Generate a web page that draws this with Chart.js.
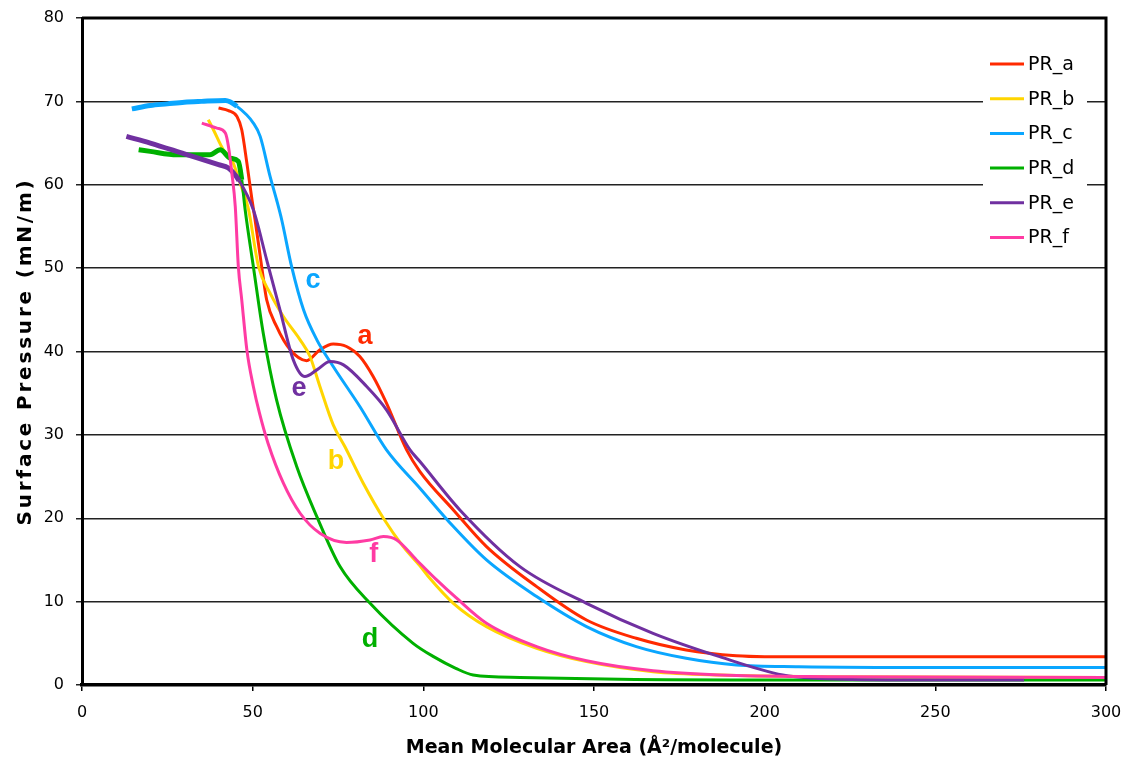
<!DOCTYPE html>
<html>
<head>
<meta charset="utf-8">
<title>Surface pressure isotherms</title>
<script src="https://cdn.jsdelivr.net/npm/chart.js@4"></script>
<style>
  body { margin: 0; background: #fff; }
  #wrap { width: 1125px; height: 759px; }
</style>
</head>
<body>
<div id="wrap"><canvas id="chart" width="1125" height="759"></canvas></div>
<script>
// [mean molecular area, surface pressure]
const prA = [[40,69.2],[42.9,68.9],[45.4,68.2],[46.8,66.6],[48.3,62.6],[49.8,58.2],[50.7,55.8],[52.7,50],[54.1,46.2],[57,43],[61,40.2],[65.8,38.9],[69.7,40.2],[73.6,40.9],[77.5,40.6],[81.4,39.4],[85.3,37],[89.2,33.8],[95.1,28.2],[99,25.6],[108.8,21],[118.5,16.6],[133.2,11.8],[147.8,7.8],[162.4,5.6],[177,4.2],[191.7,3.5],[200,3.4],[250,3.4],[300,3.4]];
const prB = [[37,67.8],[38.5,66.6],[41.4,64.2],[43.9,63],[46.3,60.2],[48.7,57.2],[51.7,50.2],[55.1,47],[59,44.2],[63.9,41.4],[66.8,39.4],[69.7,35.8],[73.6,31.2],[77,28.6],[82.4,24.2],[88.3,20],[94.1,16.6],[99,14.3],[101.9,12.8],[108.8,9.8],[118.5,7],[133.2,4.4],[147.8,2.8],[167.3,1.6],[186.8,1.2],[220,1.0],[300,0.9]];
const prC = [[14.6,69.1],[20,69.5],[25,69.7],[30,69.9],[35,70],[42,70.1],[45.4,69.4],[50.2,67.4],[52.2,65.8],[55.1,61],[57,58.2],[58.5,55.8],[61.4,50.2],[64.9,45],[68.8,41.4],[73.6,38.2],[81.4,33.4],[89.2,28.2],[99,23.6],[108.8,19],[118.5,15],[133.2,10.6],[147.8,7],[162.4,4.6],[177,3.2],[191.7,2.4],[210,2.2],[250,2.1],[300,2.1]];
const prD = [[16.6,64.2],[20,64],[27.8,63.6],[37.5,63.6],[40.5,64.2],[43.4,63.2],[45.8,62.8],[46.8,60.6],[47.8,57],[50.2,50.2],[53.1,42.2],[57,34.2],[62.9,26.2],[68.8,20.2],[75.6,14.2],[84.4,9.8],[97,5],[103,3.4],[109.5,2.0],[114.6,1.2],[128.3,0.9],[200,0.6],[300,0.6]];
const prE = [[13,65.8],[20,65],[30,63.7],[40,62.4],[42.9,62],[46,60.5],[50.2,57],[54.1,51],[58,45],[61.9,39],[65.3,37],[68.8,37.8],[72.7,38.8],[76.6,38.4],[83.4,35.8],[89.2,33],[96.1,28.2],[99,26.8],[110.7,21],[128.3,14.2],[147.8,9.8],[167.3,6.2],[186.8,3.4],[205.3,1.2],[215,0.8],[240,0.6],[276,0.6]];
const prF = [[35.1,67.4],[39.5,66.8],[42,66.2],[42.9,64.6],[43.9,61.4],[44.9,57.4],[45.8,50.2],[46.8,46.2],[48.3,40.2],[50.2,35.8],[52,32.6],[54.5,29],[59,24.2],[63.9,20.6],[69.7,18.2],[77.5,17.1],[84.4,17.4],[88.3,17.8],[92.2,17.4],[98,15],[103.9,12.6],[109.5,10.5],[118.5,7.4],[133.2,4.6],[147.8,2.9],[167.3,1.7],[186.8,1.2],[220,1.0],[300,0.9]];

const seriesNames = ['PR_a', 'PR_b', 'PR_c', 'PR_d', 'PR_e', 'PR_f'];
const seriesData = [prA, prB, prC, prD, prE, prF];
const seriesColors = ['#FF2A00', '#FFD500', '#0AA6FF', '#00B000', '#7030A0', '#FF3BA3'];
// area below which the trace is noisy (drawn thicker)
const noisyBelow = [0, 0, 44, 46, 43, 0];

// curve letters placed in data coordinates
const curveLetters = ['a', 'b', 'c', 'd', 'e', 'f'];
const letterAt = [[82.9, 41.8], [74.4, 26.8], [67.7, 48.5], [84.4, 5.4], [63.6, 35.6], [85.5, 15.6]];

const xTicks = [0, 50, 100, 150, 200, 250, 300];
const yTicks = [0, 10, 20, 30, 40, 50, 60, 70, 80];

const datasets = seriesData.map((pts, i) => ({
  label: seriesNames[i],
  data: pts.map(p => ({ x: p[0], y: p[1] })),
  borderColor: seriesColors[i],
  borderWidth: 3,
  pointRadius: 0,
  cubicInterpolationMode: 'monotone',
  fill: false,
  order: seriesData.length - i,
  segment: {
    borderWidth: ctx => (ctx.p0.parsed.x < noisyBelow[i] ? 5 : 3)
  }
}));

const extras = {
  id: 'extras',
  afterDatasetsDraw(chart) {
    const { ctx, chartArea: ca, scales } = chart;
    const xs = scales.x, ys = scales.y;
    ctx.save();

    // curve letters
    ctx.font = 'bold 27px "Liberation Sans", Arial, sans-serif';
    ctx.textAlign = 'center';
    ctx.textBaseline = 'middle';
    curveLetters.forEach((l, i) => {
      ctx.fillStyle = seriesColors[i];
      ctx.fillText(l, xs.getPixelForValue(letterAt[i][0]), ys.getPixelForValue(letterAt[i][1]));
    });

    // legend box inside plot
    const lx = 983, ly = 45, lw = 104, lh = 214;
    ctx.fillStyle = '#fff';
    ctx.fillRect(lx, ly, lw, lh);
    ctx.font = '19px "DejaVu Sans", sans-serif';
    ctx.textAlign = 'left';
    seriesNames.forEach((n, i) => {
      const yy = 64 + i * 34.7;
      ctx.strokeStyle = seriesColors[i];
      ctx.lineWidth = 3;
      ctx.beginPath();
      ctx.moveTo(990, yy);
      ctx.lineTo(1024, yy);
      ctx.stroke();
      ctx.fillStyle = '#000';
      ctx.fillText(n, 1028, yy + 1);
    });

    // top and right frame
    ctx.strokeStyle = '#000';
    ctx.lineWidth = 3;
    ctx.beginPath();
    ctx.moveTo(ca.left, ca.top);
    ctx.lineTo(ca.right, ca.top);
    ctx.lineTo(ca.right, ca.bottom);
    ctx.stroke();

    // y axis title with wide letter spacing
    ctx.translate(26, (ca.top + ca.bottom) / 2);
    ctx.rotate(-Math.PI / 2);
    ctx.font = 'bold 20px "DejaVu Sans", sans-serif';
    ctx.letterSpacing = '2.8px';
    ctx.textAlign = 'center';
    ctx.fillStyle = '#000';
    ctx.fillText('Surface Pressure (mN/m)', 0, 0);
    ctx.restore();
  }
};

new Chart(document.getElementById('chart'), {
  type: 'line',
  data: { datasets },
  options: {
    responsive: false,
    animation: false,
    layout: { padding: { top: 18, right: 19, left: 0, bottom: 0 } },
    plugins: { legend: { display: false }, tooltip: { enabled: false } },
    scales: {
      x: {
        type: 'linear',
        min: 0, max: 300,
        afterFit: s => { s.height = 74; s.paddingLeft = 0; s.paddingRight = 0; },
        afterBuildTicks: s => { s.ticks = xTicks.map(v => ({ value: v })); },
        grid: { drawOnChartArea: false, drawTicks: true, tickLength: 6, color: '#000', lineWidth: 1.5 },
        border: { color: '#000', width: 3.5 },
        ticks: { color: '#000', font: { family: 'DejaVu Sans', size: 16 }, padding: 12, maxRotation: 0 },
        title: {
          display: true,
          text: 'Mean Molecular Area (Å²/molecule)',
          color: '#000',
          font: { family: 'DejaVu Sans', size: 19, weight: 'bold' },
          padding: { top: 4, bottom: 0 }
        }
      },
      y: {
        type: 'linear',
        min: 0, max: 80,
        afterFit: s => { s.width = 82; s.paddingTop = 0; s.paddingBottom = 0; },
        afterBuildTicks: s => { s.ticks = yTicks.map(v => ({ value: v })); },
        grid: { color: '#222', lineWidth: 1.5, tickLength: 6 },
        border: { color: '#000', width: 3 },
        ticks: { color: '#000', font: { family: 'DejaVu Sans', size: 16 }, padding: 12 }
      }
    }
  },
  plugins: [extras]
});
</script>
</body>
</html>
